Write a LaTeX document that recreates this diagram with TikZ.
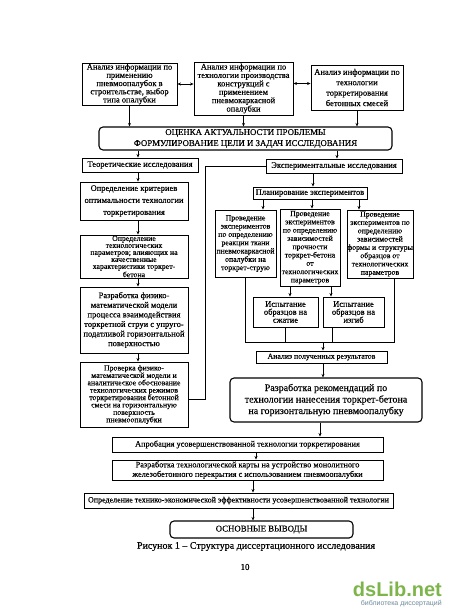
\documentclass[tikz,border=0pt]{standalone}
\usepackage{fontspec}
\setmainfont{Liberation Serif}[FakeBold=0.35]
\newfontfamily\wmfont{Liberation Sans}
\usetikzlibrary{arrows.meta}
\definecolor{wmgreen}{HTML}{7DB54A}
\definecolor{wmgray}{HTML}{6E8A9A}
\tikzset{
  bx/.style={draw, line width=0.9pt, align=center, inner sep=0pt},
  rbx/.style={bx, rounded corners=4pt, line width=1.1pt},
  arr/.style={-{Stealth[length=3.5pt,width=3pt]}, line width=0.8pt},
  darr/.style={{Stealth[length=3.5pt,width=3pt]}-{Stealth[length=3.5pt,width=3pt]}, line width=0.8pt},
  ln/.style={line width=0.8pt},
  fa/.style={font=\fontsize{8.5}{#1}\selectfont},
  fb/.style={font=\fontsize{7.8}{#1}\selectfont},
}
\begin{document}
\begin{tikzpicture}[x=1pt,y=-1pt]
\useasboundingbox (0,0) rectangle (450,614);
% top row
\node[bx, fa=8.2, minimum width=95pt, minimum height=42pt] (A) at (129.5,84)
  {Анализ информации по\\применению\\пневмоопалубок в\\строительстве, выбор\\типа опалубки};
\node[bx, fa=8.4, minimum width=99pt, minimum height=53pt] (B) at (243.5,88.5)
  {Анализ информации по\\технологии производства\\конструкций с\\применением\\пневмокаркасной\\опалубки};
\node[bx, fa=10.4, minimum width=92pt, minimum height=45pt] (C) at (357,87.5)
  {Анализ информации по\\технологии\\торкретирования\\бетонных смесей};
\draw[darr] (A.east) -- (A.east -| B.west);
\draw[darr] ([yshift=4pt]C.west) -- ([yshift=4pt]C.west -| B.east);
% big rounded box
\node[rbx, font=\fontsize{8.8}{11}\selectfont, minimum width=293pt, minimum height=23pt] (P) at (245.5,138.5)
  {ОЦЕНКА АКТУАЛЬНОСТИ ПРОБЛЕМЫ\\ФОРМУЛИРОВАНИЕ ЦЕЛИ И ЗАДАЧ ИССЛЕДОВАНИЯ};
\draw[arr] (A.south) -- (A.south |- P.north);
\draw[arr] (B.south) -- (B.south |- P.north);
\draw[arr] (C.south) -- (C.south |- P.north);
% two branches
\node[bx, fa=9, minimum width=116pt, minimum height=14pt] (T) at (140,165) {Теоретические исследования};
\node[bx, fa=9, minimum width=136pt, minimum height=14pt] (X) at (334,166) {Экспериментальные исследования};
\coordinate (ta) at (138,0);
\coordinate (xa) at (337,0);
\draw[arr] (P.south -| ta) -- (T.north -| ta);
\draw[arr] (P.south -| xa) -- (X.north -| xa);
% left column
\node[bx, fa=12, minimum width=108pt, minimum height=38pt] (L1) at (134,201)
  {Определение критериев\\оптимальности технологии\\торкретирования};
\node[bx, fb=7, minimum width=108pt, minimum height=43pt] (L2) at (134,256.5)
  {Определение\\технологических\\параметров; влияющих на\\качественные\\характеристики торкрет-\\бетона};
\node[bx, fa=9.6, minimum width=108pt, minimum height=66pt] (L3) at (134,320)
  {Разработка физико-\\математической модели\\процесса взаимодействия\\торкретной струи с упруго-\\податливой горизонтальной\\поверхностью};
\node[bx, fb=7.4, minimum width=108pt, minimum height=65pt] (L4) at (134,394.5)
  {Проверка физико-\\математической модели и\\аналитическое обоснование\\технологических режимов\\торкретирования бетонной\\смеси на горизонтальную\\поверхность\\пневмоопалубки};
\draw[arr] (T.south -| ta) -- (L1.north -| ta);
\draw[arr] (L1.south -| ta) -- (L2.north -| ta);
\draw[arr] (L2.south -| ta) -- (L3.north -| ta);
\draw[arr] (L3.south -| ta) -- (L4.north -| ta);
% link experimental -> left
\coordinate (k) at (205,0);
\draw[ln] (X.west) -| ([yshift=-4.5pt]L4.east -| k) -- ([yshift=-4.5pt]L4.east);
% experiments
\node[bx, fa=9, minimum width=114pt, minimum height=12pt] (PL) at (310,193) {Планирование экспериментов};
\coordinate (pa) at (313,0);
\draw[arr] (X.south -| pa) -- (PL.north -| pa);
\node[bx, fb=8.3, minimum width=61pt, minimum height=67pt] (E1) at (245.5,243.5)
  {Проведение\\экспериментов\\по определению\\реакции ткани\\пневмокаркасной\\опалубки на\\торкрет-струю};
\node[bx, fb=8.3, minimum width=60pt, minimum height=77pt] (E2) at (310,247.5)
  {Проведение\\экспериментов\\по определению\\зависимостей\\прочности\\торкрет-бетона\\от\\технологических\\параметров};
\node[bx, fb=8.3, minimum width=66pt, minimum height=68pt] (E3) at (380,244)
  {Проведение\\экспериментов по\\определению\\зависимостей\\формы и структуры\\образцов от\\технологических\\параметров};
\coordinate (p1) at (263,0);
\coordinate (p2) at (312,0);
\coordinate (p3) at (359,0);
\draw[arr] (PL.south -| p1) -- (E1.north -| p1);
\draw[arr] (PL.south -| p2) -- (E2.north -| p2);
\draw[arr] (PL.south -| p3) -- (E3.north -| p3);
\node[bx, fa=8, minimum width=65pt, minimum height=30pt] (T1) at (285.5,312)
  {Испытание\\образцов на\\сжатие};
\node[bx, fa=8, minimum width=61pt, minimum height=30pt] (T2) at (353.5,312)
  {Испытание\\образцов на\\изгиб};
\coordinate (q1) at (290,0);
\coordinate (q2) at (331,0);
\draw[arr] (E2.south -| q1) -- (T1.north -| q1);
\draw[arr] (E2.south -| q2) -- (T2.north -| q2);
% collecting line
\coordinate (cy) at (0,342);
\coordinate (e3x) at (394,0);
\coordinate (t2x) at (332,0);
\draw[ln] (E1.south) -- (E1.south |- cy) -- (cy -| e3x) -- (E3.south -| e3x);
\draw[ln] (T1.south) -- (T1.south |- cy);
\draw[ln] (T2.south -| t2x) -- (cy -| t2x);
\node[bx, fb=8, minimum width=131pt, minimum height=12pt] (AN) at (321.5,357) {Анализ полученных результатов};
\coordinate (ra) at (323,0);
\draw[arr] (cy -| ra) -- (AN.north -| ra);
\node[rbx, font=\fontsize{10}{11.5}\selectfont, minimum width=192pt, minimum height=44pt] (R) at (326,400)
  {Разработка рекомендаций по\\технологии нанесения торкрет-бетона\\на горизонтальную пневмоопалубку};
\draw[arr] (AN.south -| ra) -- (R.north -| ra);
% bottom chain
\node[bx, font=\fontsize{8.3}{9}\selectfont, minimum width=271pt, minimum height=15pt] (AP) at (247.5,444.5)
  {Апробация усовершенствованной технологии торкретирования};
\coordinate (ba) at (320,0);
\draw[arr] (R.south -| ba) -- (AP.north -| ba);
\node[bx, font=\fontsize{8.3}{9.5}\selectfont, minimum width=271pt, minimum height=20pt] (K) at (247.5,470)
  {Разработка технологической карты на устройство монолитного\\железобетонного перекрытия с использованием пневмоопалубки};
\coordinate (ka) at (256,0);
\draw[arr] (AP.south -| ka) -- (K.north -| ka);
\node[bx, font=\fontsize{8}{9}\selectfont, minimum width=309pt, minimum height=15pt] (D) at (238.5,500.5)
  {Определение технико-экономической эффективности усовершенствованной технологии};
\coordinate (da) at (253,0);
\draw[arr] (K.south -| da) -- (D.north -| da);
\node[rbx, font=\fontsize{8.8}{10}\selectfont, minimum width=183pt, minimum height=17pt] (O) at (261.5,529.5)
  {ОСНОВНЫЕ ВЫВОДЫ};
\draw[arr] (D.south -| da) -- (O.north -| da);
% caption and page number
\node[font=\fontsize{10}{12}\selectfont, inner sep=0pt] (cap) at (256,546.5)
  {Рисунок 1 – Структура диссертационного исследования};
\node[font=\fontsize{9}{10}\selectfont, inner sep=0pt] (pg) at (245,567) {10};
% watermark
\node[font=\wmfont\bfseries\fontsize{20}{22}\selectfont, text=wmgreen, inner sep=0pt, anchor=east] (wm) at (442,589)
  {dsLib.net};
\node[font=\wmfont\fontsize{7}{8}\selectfont, text=wmgray, inner sep=0pt, anchor=east] (wm2) at (442,604)
  {библиотека диссертаций};
\end{tikzpicture}
\end{document}
